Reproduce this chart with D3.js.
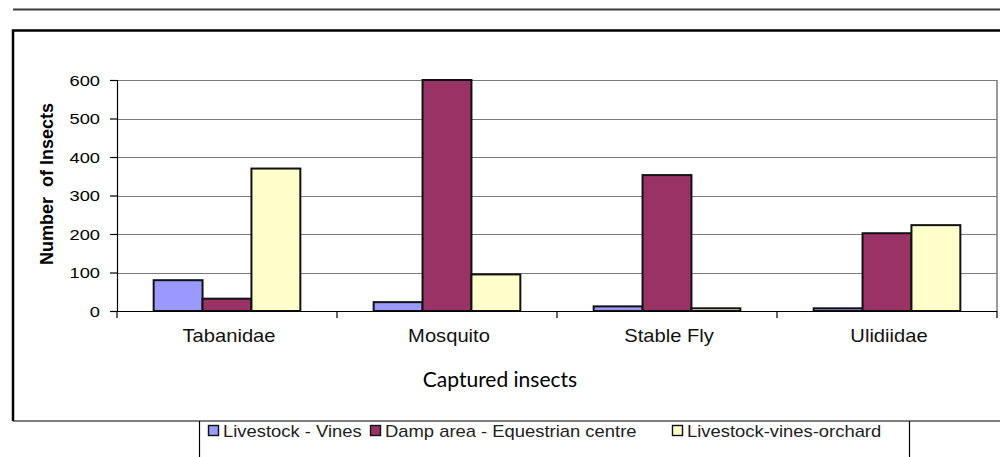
<!DOCTYPE html>
<html lang="en">
<meta charset="utf-8" />
<style>
  body { margin: 0; background: #fff; }
  text { font-family: Arial, "Liberation Sans", sans-serif; }
</style>
<svg width="1000" height="457"></svg>
<script src="https://d3js.org/d3.v7.min.js"></script>
<script>
// data
var categories = ["Tabanidae", "Mosquito", "Stable Fly", "Ulidiidae"];
var seriesNames = ["Livestock - Vines", "Damp area - Equestrian centre", "Livestock-vines-orchard"];
var vines = [80, 23, 12, 7];
var damp = [32, 600, 353, 202];
var orchard = [370, 95, 7, 223];
var yTicks = [0, 100, 200, 300, 400, 500, 600];
var colors = ["#9999ff", "#993366", "#ffffcc"];

var svg = d3.select("svg");

// the original is stretched sideways a bit, so text gets a scaleX
var sx = 1.18;
function stretched(sel, x, y, k) {
  return sel.attr("transform", "translate(" + x + "," + y + ") scale(" + (k || sx) + ",1)");
}

// frame lines
svg.append("line").attr("x1", 13).attr("x2", 1000).attr("y1", 9.5).attr("y2", 9.5)
  .attr("stroke", "#3a3a3a").attr("stroke-width", 2);
svg.append("path").attr("d", "M13,421V30.5H1000")
  .attr("fill", "none").attr("stroke", "#000").attr("stroke-width", 2.5);
svg.append("line").attr("x1", 13).attr("x2", 1000).attr("y1", 421).attr("y2", 421)
  .attr("stroke", "#000").attr("stroke-width", 1.2);
svg.append("line").attr("x1", 199.5).attr("x2", 199.5).attr("y1", 421).attr("y2", 457)
  .attr("stroke", "#000").attr("stroke-width", 1.2);
svg.append("line").attr("x1", 909.5).attr("x2", 909.5).attr("y1", 421).attr("y2", 457)
  .attr("stroke", "#000").attr("stroke-width", 1.2);

// scales
var x0 = d3.scaleBand().domain(categories).range([117, 997]);
var x1 = d3.scaleBand().domain(seriesNames).range([0, x0.bandwidth()])
  .paddingInner(0).paddingOuter(0.75);
var y = d3.scaleLinear().domain([0, 600]).range([311, 80]);

// gridlines
svg.append("g").selectAll("line").data(yTicks.slice(1)).enter().append("line")
  .attr("x1", 117).attr("x2", 997)
  .attr("y1", function(d) { return Math.round(y(d)) + 0.5; })
  .attr("y2", function(d) { return Math.round(y(d)) + 0.5; })
  .attr("stroke", "#7a7a7a").attr("stroke-width", 1.2);
// right edge of plot area
svg.append("line").attr("x1", 997).attr("x2", 997).attr("y1", 80).attr("y2", 311)
  .attr("stroke", "#7a7a7a").attr("stroke-width", 1.5);

// bars
var rows = categories.map(function(c, i) {
  return { cat: c, vals: [vines[i], damp[i], orchard[i]] };
});
var groups = svg.append("g").selectAll("g").data(rows).enter().append("g")
  .attr("transform", function(d) { return "translate(" + x0(d.cat) + ",0)"; });
groups.selectAll("rect")
  .data(function(d) { return d.vals.map(function(v, j) { return { s: seriesNames[j], v: v, j: j }; }); })
  .enter().append("rect")
  .attr("x", function(d) { return x1(d.s); })
  .attr("width", x1.bandwidth())
  .attr("y", function(d) { return y(d.v); })
  .attr("height", function(d) { return y(0) - y(d.v); })
  .attr("fill", function(d) { return colors[d.j]; })
  .attr("stroke", "#111").attr("stroke-width", 2);

// y axis
var yAxis = svg.append("g").attr("transform", "translate(117,0)")
  .call(d3.axisLeft(y).tickValues(yTicks).tickSize(7).tickFormat(""));
yAxis.select(".domain").attr("stroke", "#000").attr("stroke-width", 1.2);
yAxis.selectAll(".tick line").attr("stroke", "#000").attr("stroke-width", 1.2);

svg.append("g").selectAll("text").data(yTicks).enter().append("text")
  .each(function(d) { stretched(d3.select(this), 100, y(d) + 5.5); })
  .attr("text-anchor", "end").attr("font-size", 15.5).attr("fill", "#000")
  .text(function(d) { return d; });

// x axis
svg.append("line").attr("x1", 117).attr("x2", 997).attr("y1", 311.5).attr("y2", 311.5)
  .attr("stroke", "#000").attr("stroke-width", 1.2);
var bounds = categories.map(function(c) { return x0(c); }).concat([x0.range()[1]]);
svg.append("g").selectAll("line").data(bounds).enter().append("line")
  .attr("x1", function(d) { return d; }).attr("x2", function(d) { return d; })
  .attr("y1", 311).attr("y2", 318)
  .attr("stroke", "#000").attr("stroke-width", 1.2);

svg.append("g").selectAll("text").data(categories).enter().append("text")
  .each(function(d) { stretched(d3.select(this), x0(d) + x0.bandwidth() / 2 + 2, 342, 1.12); })
  .attr("text-anchor", "middle").attr("font-size", 18).attr("fill", "#111")
  .text(function(d) { return d; });

// axis titles
svg.append("text")
  .attr("transform", "translate(53,184) rotate(-90)")
  .attr("text-anchor", "middle").attr("font-size", 18).attr("font-weight", "bold")
  .style("white-space", "pre")
  .text("Number  of Insects");

svg.append("text")
  .attr("x", 500).attr("y", 387)
  .attr("text-anchor", "middle").attr("font-size", 21)
  .style("font-family", "Lato, 'Open Sans', sans-serif")
  .text("Captured insects");

// legend
var legendX = [208, 370, 672];
var leg = svg.append("g").selectAll("g").data(seriesNames).enter().append("g")
  .attr("transform", function(d, i) { return "translate(" + legendX[i] + ",424)"; });
leg.append("rect")
  .attr("x", 0.5).attr("y", 1.5).attr("width", 10).attr("height", 10)
  .attr("fill", function(d, i) { return colors[i]; })
  .attr("stroke", "#111").attr("stroke-width", 1.4);
leg.append("text")
  .each(function() { stretched(d3.select(this), 15, 12.5, 1.15); })
  .attr("font-size", 16).attr("fill", "#222")
  .text(function(d) { return d; });
</script>
</html>
